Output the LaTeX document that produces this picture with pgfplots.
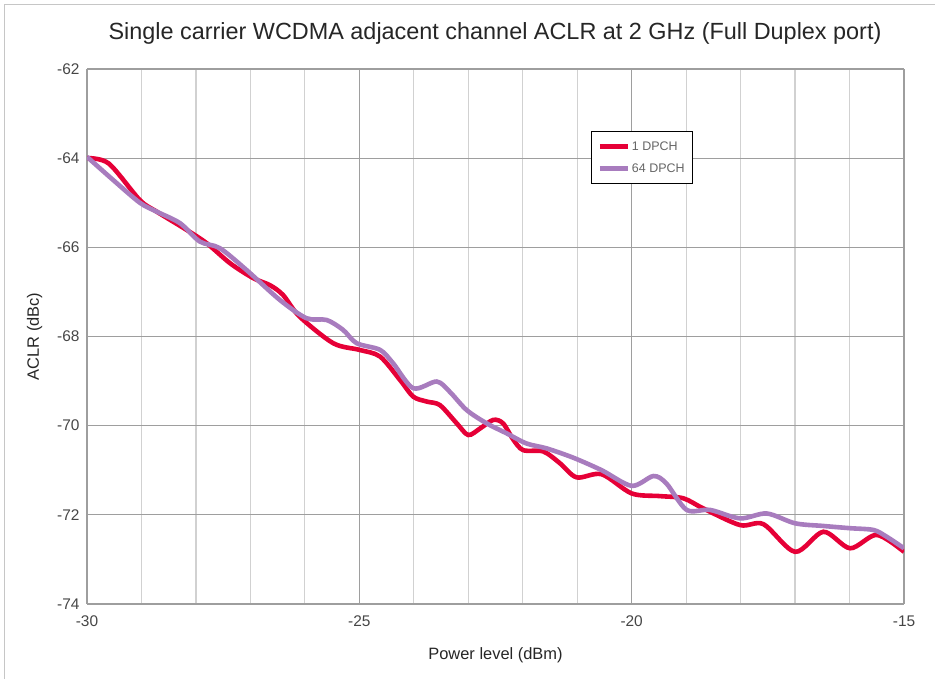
\documentclass[border=0pt]{standalone}
\usepackage{fontspec}
\setmainfont{Liberation Sans}
\usepackage{pgfplots}
\pgfplotsset{compat=1.18}
\definecolor{kred}{RGB}{230,0,55}
\definecolor{kpurple}{RGB}{168,124,190}
\definecolor{tickgray}{RGB}{70,70,70}
\begin{document}
\begin{tikzpicture}[x=1bp,y=1bp]
\useasboundingbox (0,0) rectangle (935,679);
\draw[gray!45, line width=1bp] (4,0) -- (4,674) -- (935,674);
\node[font=\fontsize{23.5}{26}\selectfont, text=black!85] at (495,646) {Single carrier WCDMA adjacent channel ACLR at 2 GHz (Full Duplex port)};
\begin{axis}[
  at={(87bp,75bp)}, anchor=south west,
  scale only axis, width=817bp, height=535bp,
  xmin=-30, xmax=-15, ymin=-74, ymax=-62,
  xtick={-30,-25,-20,-15},
  minor xtick={-29,-28,-27,-26,-24,-23,-22,-21,-19,-18,-17,-16},
  ytick={-74,-72,-70,-68,-66,-64,-62},
  grid=both,
  major grid style={draw=black!38, line width=1.2bp},
  minor grid style={draw=black!18, line width=1.2bp},
  axis line style={draw=none},
  major tick length=0pt, minor tick length=0pt,
  /pgf/number format/assume math mode=true,
  ticklabel style={font=\fontsize{15.5}{18}\selectfont, text=tickgray},
  xticklabel style={yshift=-8bp},
  yticklabel style={xshift=-4bp},
  xlabel={Power level (dBm)},
  ylabel={ACLR (dBc)},
  label style={font=\fontsize{16.5}{19}\selectfont, text=black!85},
  xlabel style={yshift=-14bp},
  ylabel style={yshift=8bp},
  legend style={at={(0.617,0.884)}, anchor=north west, draw=black, line width=0.8bp,
    font=\fontsize{12.5}{15}\selectfont, text=black!60, inner xsep=6bp, inner ysep=8bp, row sep=8bp,
    cells={anchor=west}},
  legend image post style={line width=4.5bp},
  legend image code/.code={\draw[#1] (0bp,0bp) -- (28bp,0bp);},
]
\addplot[kred, line width=4.6bp, smooth, tension=0.5] coordinates {
(-30,-64.0) (-29.6,-64.12) (-29.03,-64.94) (-28.72,-65.2) (-28.17,-65.61) (-27.8,-65.91)
(-27.37,-66.36) (-26.95,-66.69) (-26.64,-66.85) (-26.4,-67.07) (-26.1,-67.55) (-25.48,-68.15)
(-25.0,-68.3) (-24.62,-68.45) (-24.25,-68.98) (-24.01,-69.35) (-23.76,-69.46) (-23.52,-69.54)
(-23.21,-69.95) (-23.0,-70.21) (-22.78,-70.06) (-22.54,-69.87) (-22.36,-69.95) (-22.17,-70.32)
(-21.99,-70.55) (-21.62,-70.58) (-21.32,-70.84) (-21.01,-71.16) (-20.55,-71.09) (-20.0,-71.52)
(-19.48,-71.58) (-19.05,-71.63) (-18.68,-71.86) (-18.01,-72.23) (-17.58,-72.21) (-17.0,-72.83)
(-16.48,-72.38) (-15.99,-72.75) (-15.5,-72.45) (-15.0,-72.83)
};
\addlegendentry{1 DPCH}
\addplot[kpurple, line width=4.6bp, smooth, tension=0.5] coordinates {
(-30,-63.97) (-29.52,-64.49) (-29.03,-65.0) (-28.72,-65.2) (-28.29,-65.46) (-27.93,-65.87)
(-27.56,-66.02) (-27.07,-66.51) (-26.46,-67.18) (-25.97,-67.59) (-25.6,-67.63) (-25.3,-67.85)
(-25.05,-68.15) (-24.62,-68.3) (-24.38,-68.6) (-24.01,-69.16) (-23.58,-69.01) (-23.34,-69.24)
(-23.03,-69.65) (-22.66,-69.95) (-22.3,-70.17) (-21.93,-70.4) (-21.56,-70.51) (-21.07,-70.72)
(-20.55,-71.0) (-20.0,-71.35) (-19.6,-71.13) (-19.36,-71.3) (-18.99,-71.89) (-18.56,-71.89)
(-18.01,-72.08) (-17.52,-71.97) (-17.0,-72.19) (-16.48,-72.25) (-15.99,-72.30) (-15.56,-72.34)
(-15.32,-72.49) (-15.0,-72.75)
};
\addlegendentry{64 DPCH}
\end{axis}
\end{tikzpicture}
\end{document}
